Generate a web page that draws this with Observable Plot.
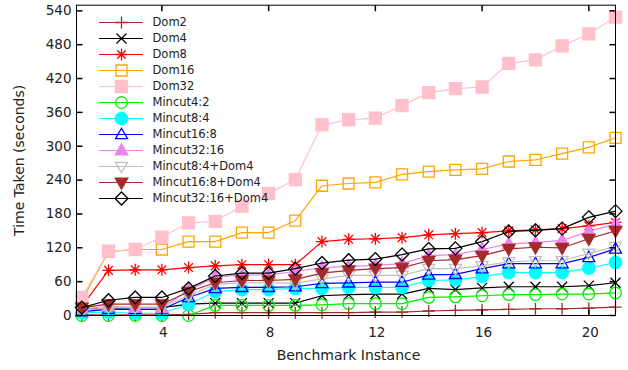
<!DOCTYPE html>
<html><head><meta charset="utf-8">
<script src="https://cdn.jsdelivr.net/npm/d3@7"></script>
<script src="https://cdn.jsdelivr.net/npm/@observablehq/plot@0.6"></script>
<style>
html,body{margin:0;padding:0;background:#fff;}
#chart{position:relative;width:628px;height:370px;}
#chart svg{position:absolute;left:0;top:0;background:transparent;}
</style></head><body><div id="chart"></div>
<script>
// ---- data ----
const instances = [1,2,3,4,5,6,7,8,9,10,11,12,13,14,15,16,17,18,19,20,21];
const dom2 = [1,1,1,1,2,5,5,5,5,5,5,6,6,8,9,10,11,12,12,13,15];
const dom4 = [10,13,14,14,20,22,22,22,22,35,37,38,38,48,46,49,51,51,51,53,58];
const dom8 = [16,80,81,81,85,88,90,90,90,131,135,136,138,143,145,147,150,152,154,159,165];
const dom16 = [27,113,117,117,131,131,147,147,168,230,234,236,250,255,258,260,273,276,287,298,315];
const dom32 = [32,114,117,139,164,167,194,216,241,338,347,350,372,395,402,405,447,453,478,499,529];
const mincut4_2 = [0,0,0,0,0,18,18,18,18,19,21,21,21,32,33,35,37,37,38,38,40];
const mincut8_4 = [5,6,4,4,20,42,46,46,48,48,50,50,50,62,63,69,76,76,76,84,94];
const mincut16_8 = [7,11,11,11,32,48,50,50,51,57,58,59,59,72,73,83,92,92,92,103,118];
const mincut32_16 = [12,16,14,13,45,68,72,72,78,85,87,89,92,106,108,117,127,129,133,149,162];
const mincut8_4_dom4 = [9,14,15,15,35,55,58,58,57,65,71,71,71,83,83,88,95,97,97,110,122];
const mincut16_8_dom4 = [14,20,20,20,42,58,62,62,64,75,80,83,85,97,99,106,118,121,120,136,150];
const mincut32_16_dom4 = [14,27,32,32,48,70,75,75,83,93,98,100,108,118,119,131,149,151,154,174,185];
const seriesNames = ["Dom2","Dom4","Dom8","Dom16","Dom32","Mincut4:2","Mincut8:4","Mincut16:8","Mincut32:16","Mincut8:4+Dom4","Mincut16:8+Dom4","Mincut32:16+Dom4"];
const xTicks = [4,8,12,16,20];
const yTicks = [0,60,120,180,240,300,360,420,480,540];

// ---- symbols ----
const sym = fn => ({draw(c, size){ fn(c, Math.sqrt(size / Math.PI)); }});
const S = {
  plus: sym((c,h)=>{c.moveTo(-h,0);c.lineTo(h,0);c.moveTo(0,-h);c.lineTo(0,h);}),
  times: sym((c,h)=>{c.moveTo(-h,-h);c.lineTo(h,h);c.moveTo(-h,h);c.lineTo(h,-h);}),
  star: sym((c,h)=>{const k=h*0.72;c.moveTo(-h,0);c.lineTo(h,0);c.moveTo(0,-h);c.lineTo(0,h);c.moveTo(-k,-k);c.lineTo(k,k);c.moveTo(-k,k);c.lineTo(k,-k);}),
  square: sym((c,h)=>{c.moveTo(-h,-h);c.lineTo(h,-h);c.lineTo(h,h);c.lineTo(-h,h);c.closePath();}),
  circle: sym((c,h)=>{c.moveTo(h,0);c.arc(0,0,h,0,2*Math.PI);c.closePath();}),
  triUp: sym((c,h)=>{c.moveTo(0,-h*1.05);c.lineTo(h,h*0.7);c.lineTo(-h,h*0.7);c.closePath();}),
  triDown: sym((c,h)=>{c.moveTo(0,h*1.05);c.lineTo(h,-h*0.7);c.lineTo(-h,-h*0.7);c.closePath();}),
  diamond: sym((c,h)=>{c.moveTo(0,-h);c.lineTo(h,0);c.lineTo(0,h);c.lineTo(-h,0);c.closePath();}),
  tickL: {draw(c){c.moveTo(0,0);c.lineTo(6,0);}},
  tickR: {draw(c){c.moveTo(0,0);c.lineTo(-6,0);}},
  tickB: {draw(c){c.moveTo(0,0);c.lineTo(0,-6);}},
  tickT: {draw(c){c.moveTo(0,0);c.lineTo(0,6);}}
};

const values = [dom2,dom4,dom8,dom16,dom32,mincut4_2,mincut8_4,mincut16_8,mincut32_16,mincut8_4_dom4,mincut16_8_dom4,mincut32_16_dom4];
const styles = [
  {color:"#a52a2a", symbol:S.plus, filled:false, r:6},
  {color:"#000000", symbol:S.times, filled:false, r:5},
  {color:"#ff0000", symbol:S.star, filled:false, r:6},
  {color:"#ffa500", symbol:S.square, filled:false, r:5.5},
  {color:"#ffc0cb", symbol:S.square, filled:true, r:6},
  {color:"#00ee00", symbol:S.circle, filled:false, r:5.8},
  {color:"#00ffff", symbol:S.circle, filled:true, r:6.2},
  {color:"#0000ff", symbol:S.triUp, filled:false, r:6},
  {color:"#ee82ee", symbol:S.triUp, filled:true, r:6.3},
  {color:"#c0c0c0", symbol:S.triDown, filled:false, r:6},
  {color:"#a52a2a", symbol:S.triDown, filled:true, r:6.3},
  {color:"#000000", symbol:S.diamond, filled:false, r:6.5}
];

const FONT = "DejaVu Sans";
const seriesMarks = [];
seriesNames.forEach((name, k) => {
  const s = styles[k];
  const rows = instances.map((x, i) => ({x, y: values[k][i]}));
  seriesMarks.push(Plot.line(rows, {x:"x", y:"y", stroke:s.color, strokeWidth:1.2}));
  seriesMarks.push(Plot.dot(rows, {x:"x", y:"y", symbol:s.symbol, r:s.r,
    stroke:s.color, fill:s.filled ? s.color : "none", strokeWidth:1.3}));
});

const main = Plot.plot({
  width: 628, height: 370,
  marginLeft: 76, marginRight: 13, marginTop: 4.7, marginBottom: 55,
  style: {fontFamily: FONT, background: "transparent"},
  x: {domain: [0.8, 21], axis: null},
  y: {domain: [0, 550], axis: null},
  marks: [
    ...seriesMarks,
    Plot.frame({stroke: "#000", strokeWidth: 1}),
    Plot.dot(yTicks, {y: d=>d, frameAnchor:"left", symbol:S.tickL, r:1, stroke:"#000", fill:"none"}),
    Plot.dot(yTicks, {y: d=>d, frameAnchor:"right", symbol:S.tickR, r:1, stroke:"#000", fill:"none"}),
    Plot.dot(xTicks, {x: d=>d, frameAnchor:"bottom", symbol:S.tickB, r:1, stroke:"#000", fill:"none"}),
    Plot.dot(xTicks, {x: d=>d, frameAnchor:"top", symbol:S.tickT, r:1, stroke:"#000", fill:"none"}),
    Plot.text(yTicks, {y: d=>d, text: d=>String(d), frameAnchor:"left", dx:-5, textAnchor:"end", lineAnchor:"middle", fontSize:13.5, fill:"#222"}),
    Plot.text(xTicks, {x: d=>d, text: d=>String(d), frameAnchor:"bottom", dy:17, dx:1.5, textAnchor:"middle", lineAnchor:"middle", fontSize:13.5, fill:"#222"}),
    Plot.text(["Benchmark Instance"], {frameAnchor:"bottom", dy:40, dx:2.5, textAnchor:"middle", lineAnchor:"middle", fontSize:14, fill:"#222"}),
    Plot.text(["Time Taken (seconds)"], {frameAnchor:"left", dx:-57, rotate:-90, textAnchor:"middle", lineAnchor:"middle", fontSize:14, fill:"#222"})
  ]
});

const legendMarks = [];
seriesNames.forEach((name, k) => {
  const s = styles[k];
  legendMarks.push(Plot.ruleY([name], {y: d=>d, x1: 0, x2: 1, stroke: s.color, strokeWidth: 1.2}));
  legendMarks.push(Plot.dot([name], {x: () => 0.5, y: d=>d, symbol: s.symbol, r: s.r,
    stroke: s.color, fill: s.filled ? s.color : "none", strokeWidth: 1.3}));
  legendMarks.push(Plot.text([name], {x: () => 1, y: d=>d, text: d=>d, dx: 9, textAnchor: "start", lineAnchor: "middle", fontSize: 11.5, fill: "#222"}));
});
const legend = Plot.plot({
  width: 628, height: 370,
  marginLeft: 0, marginRight: 0, marginTop: 0, marginBottom: 0,
  style: {fontFamily: FONT, background: "transparent"},
  x: {domain: [0, 1], range: [99, 143], axis: null},
  y: {type: "point", domain: seriesNames, range: [19, 201], padding: 0, axis: null},
  marks: legendMarks
});

const el = document.getElementById("chart");
el.appendChild(main);
el.appendChild(legend);
</script></body></html>
